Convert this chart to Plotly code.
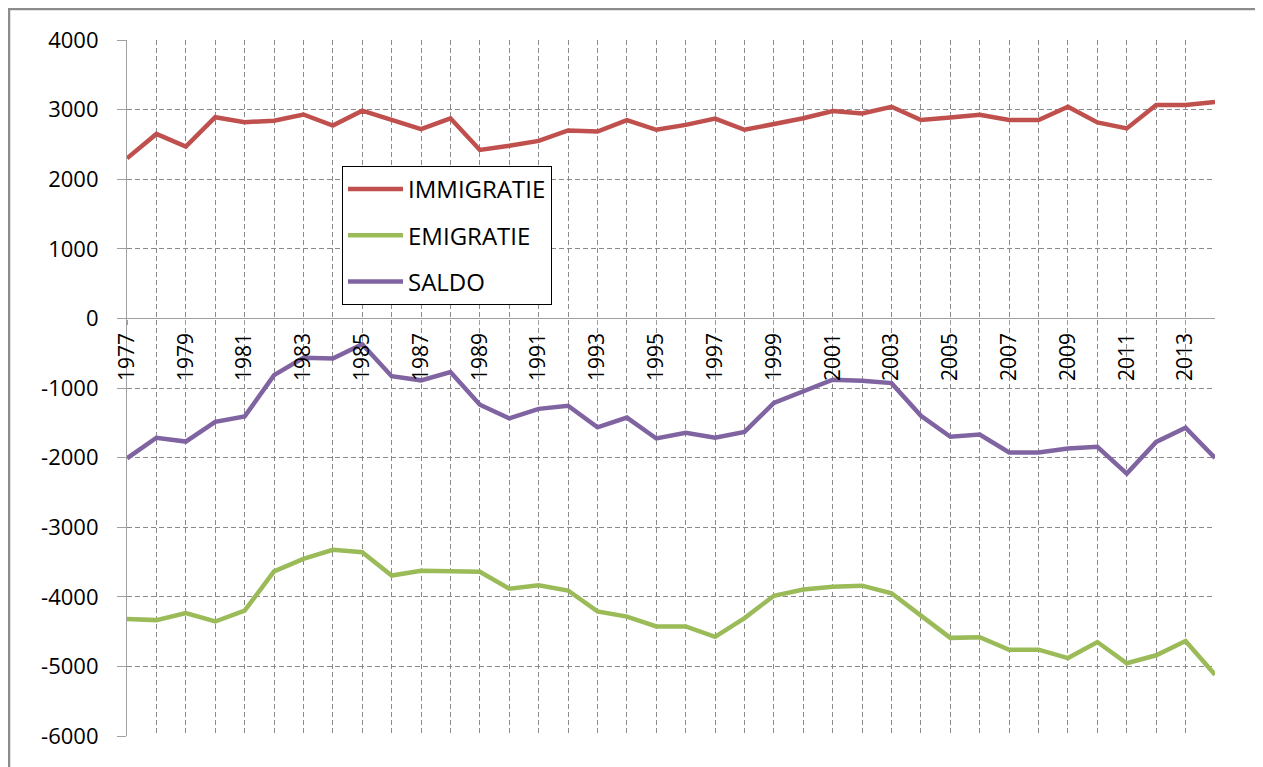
import plotly.graph_objects as go

years = list(range(1977, 2015))
immigratie = [2300, 2650, 2470, 2890, 2820, 2840, 2930, 2770, 2985, 2850,
              2720, 2875, 2420, 2480, 2550, 2700, 2685, 2850, 2710, 2780,
              2870, 2710, 2790, 2875, 2980, 2945, 3040, 2850, 2885, 2925,
              2850, 2850, 3040, 2815, 2730, 3065, 3065, 3110]
emigratie = [-4320, -4335, -4235, -4355, -4200, -3635, -3455, -3325, -3360, -3695,
             -3625, -3640, -3640, -3885, -3835, -3910, -4210, -4285, -4425, -4425,
             -4575, -4305, -3985, -3895, -3855, -3840, -3950, -4270, -4590, -4580,
             -4760, -4760, -4880, -4650, -4955, -4840, -4635, -5120]
saldo = [-2010, -1715, -1770, -1485, -1410, -815, -565, -575, -370, -830,
         -890, -770, -1240, -1435, -1300, -1255, -1565, -1425, -1725, -1645,
         -1715, -1630, -1215, -1050, -880, -895, -930, -1400, -1700, -1670,
         -1925, -1925, -1870, -1845, -2230, -1775, -1570, -2005]

y_tick_values = [4000, 3000, 2000, 1000, 0, -1000, -2000, -3000, -4000, -5000, -6000]
y_tick_labels = ["4000", "3000", "2000", "1000", "0", "-1000", "-2000",
                 "-3000", "-4000", "-5000", "-6000"]

series_names = ["IMMIGRATIE", "EMIGRATIE", "SALDO"]
series_values = [immigratie, emigratie, saldo]
series_colors = ["#C0504D", "#9BBB59", "#8064A2"]

FONT = "Open Sans"
GRID = "#8a8a8a"
AXIS = "#a0a0a0"

# page body has an 8px margin: figure occupies screen x 8..1263, y 8..767
W, H = 1255, 759
L, T = 119, 32
R, B = 48, 31
PW = W - L - R
PH = H - T - B

fig = go.Figure()
for name, vals, col in zip(series_names, series_values, series_colors):
    fig.add_trace(go.Scatter(
        x=years, y=vals, name=name, mode="lines",
        line=dict(color=col, width=4.5),
        legendgroup=name,
    ))

fig.update_layout(
    width=W, height=H,
    margin=dict(l=L, r=R, t=T, b=B),
    paper_bgcolor="white", plot_bgcolor="white",
    font=dict(family=FONT, color="black"),
    showlegend=True,
    legend=dict(
        x=(342 - 127) / PW, y=(736 - 166) / PH, xanchor="left", yanchor="top",
        bordercolor="black", borderwidth=1, bgcolor="white",
        font=dict(family=FONT, size=24, color="black"),
        tracegroupgap=12, itemwidth=55,
        traceorder="grouped",
    ),
    xaxis=dict(
        range=[1977, 2014], tick0=1977, dtick=2,
        anchor="free", position=0.6,
        showline=True, linecolor=AXIS, linewidth=1.2,
        ticks="outside", ticklen=5, tickcolor=AXIS,
        tickangle=-90, tickfont=dict(family=FONT, size=21, color="black"),
        showgrid=True, gridcolor=GRID, gridwidth=1, griddash="5px,3px",
        minor=dict(dtick=1, tick0=1977, showgrid=True, gridcolor=GRID,
                   gridwidth=1, griddash="5px,3px"),
        zeroline=False,
    ),
    yaxis=dict(
        range=[-6000, 4000],
        tickmode="array", tickvals=y_tick_values, ticktext=y_tick_labels,
        showline=True, linecolor=AXIS, linewidth=1.2,
        ticks="outside", ticklen=9, tickcolor=AXIS,
        ticklabelstandoff=14,
        tickfont=dict(family=FONT, size=22, color="black"),
        showgrid=True, gridcolor=GRID, gridwidth=1, griddash="5px,3px",
        zeroline=False,
    ),
    shapes=[dict(type="rect", xref="paper", yref="paper",
                 x0=(1 - L) / PW, x1=(1252 - L) / PW,
                 y0=-0.2, y1=(PH + T - 1) / PH,
                 line=dict(color="#8c8c8c", width=2.5), layer="below")],
)

fig.write_html("out.html")
